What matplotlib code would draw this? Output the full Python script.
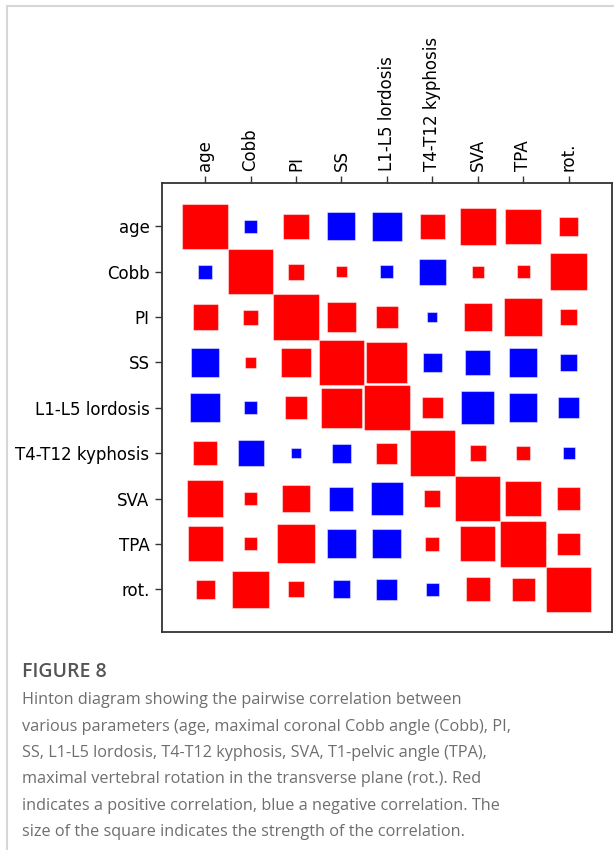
import numpy as np
import matplotlib
matplotlib.use("Agg")
import matplotlib.pyplot as plt
from matplotlib.patches import Rectangle
from matplotlib.lines import Line2D

labels = ["age", "Cobb", "PI", "SS", "L1-L5 lordosis", "T4-T12 kyphosis", "SVA", "TPA", "rot."]

corr_age   = [1.00, -0.08, 0.32, -0.38, -0.43, 0.29, 0.64, 0.61, 0.17]
corr_cobb  = [-0.09, 1.00, 0.12, 0.055, -0.08, -0.34, 0.073, 0.08, 0.66]
corr_pi    = [0.31, 0.11, 1.00, 0.42, 0.24, -0.05, 0.37, 0.70, 0.13]
corr_ss    = [-0.39, 0.05, 0.42, 1.00, 0.81, -0.17, -0.29, -0.40, -0.14]
corr_lord  = [-0.42, -0.08, 0.25, 0.80, 1.00, 0.21, -0.53, -0.40, -0.21]
corr_kyph  = [0.29, -0.33, -0.05, -0.17, 0.21, 1.00, 0.12, 0.09, -0.07]
corr_sva   = [0.65, 0.08, 0.37, -0.28, -0.50, 0.13, 1.00, 0.61, 0.27]
corr_tpa   = [0.60, 0.08, 0.73, -0.41, -0.41, 0.09, 0.60, 1.00, 0.24]
corr_rot   = [0.17, 0.67, 0.13, -0.15, -0.21, -0.08, 0.28, 0.26, 1.00]

matrix = np.array([corr_age, corr_cobb, corr_pi, corr_ss, corr_lord,
                   corr_kyph, corr_sva, corr_tpa, corr_rot])

caption_title = "FIGURE 8"
caption_lines = [
    "Hinton diagram showing the pairwise correlation between",
    "various parameters (age, maximal coronal Cobb angle (Cobb), PI,",
    "SS, L1-L5 lordosis, T4-T12 kyphosis, SVA, T1-pelvic angle (TPA),",
    "maximal vertebral rotation in the transverse plane (rot.). Red",
    "indicates a positive correlation, blue a negative correlation. The",
    "size of the square indicates the strength of the correlation.",
]

W, H = 614, 850
fig = plt.figure(figsize=(W / 100, H / 100), dpi=100)
fig.patch.set_facecolor("white")

ax = fig.add_axes([162 / W, 1 - 632.3 / H, 449.7 / W, 449 / H])
ax.set_facecolor("white")

max_weight = 1.0
n = matrix.shape[0]
for i in range(n):          # row -> y
    for j in range(n):      # column -> x
        w = matrix[i, j]
        color = "red" if w > 0 else "blue"
        size = np.sqrt(abs(w) / max_weight)
        ax.add_patch(Rectangle((j - size / 2, i - size / 2), size, size,
                               facecolor=color, edgecolor=(1, 1, 1, 0.45),
                               linewidth=0.8))

ax.set_xlim(-0.95, n - 1 + 0.95)
ax.set_ylim(n - 1 + 0.95, -0.95)
ax.set_xticks(range(n))
ax.set_yticks(range(n))
ax.set_xticklabels(labels, rotation=90, fontsize=12)
ax.set_yticklabels(labels, fontsize=12)
ax.xaxis.tick_top()
ax.tick_params(axis="both", length=5, width=1.0, color="#333333", pad=4)
for sp in ax.spines.values():
    sp.set_color("#333333")
    sp.set_linewidth(1.3)

# card border
fig.add_artist(Line2D([6.5 / W, 1.0], [1 - 5.5 / H, 1 - 5.5 / H],
                      color="#d6d6d6", lw=1.5, transform=fig.transFigure))
fig.add_artist(Line2D([6.5 / W, 6.5 / W], [1 - 5.5 / H, 0.0],
                      color="#d6d6d6", lw=1.5, transform=fig.transFigure))

fig.text(22 / W, 1 - 676.7 / H, caption_title, fontsize=14, color="#555555",
         fontweight="semibold", family="Open Sans", va="baseline", ha="left")
for k, line in enumerate(caption_lines):
    fig.text(22 / W, 1 - (704.3 + 26.3 * k) / H, line, fontsize=11.7,
             color="#6e6e6e", family="Open Sans", va="baseline", ha="left")

fig.savefig("out.png", dpi=100, facecolor="white")
